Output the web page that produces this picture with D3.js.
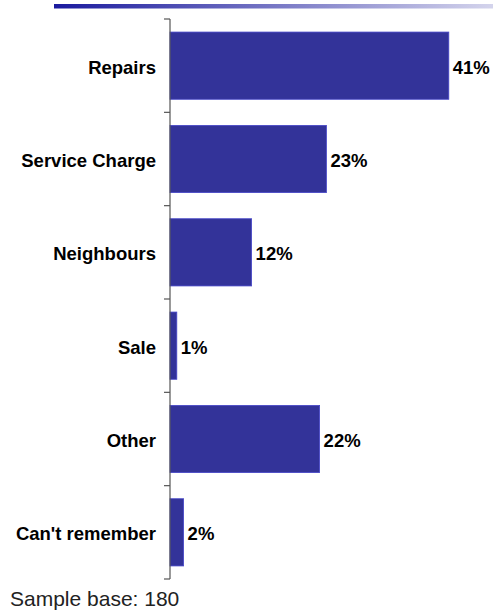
<!DOCTYPE html>
<html>
<head>
<meta charset="utf-8">
<script src="https://cdn.jsdelivr.net/npm/d3@7"></script>
<style>
  html, body { margin: 0; padding: 0; background: #fff; }
  svg { display: block; }
</style>
</head>
<body>
<svg id="chart" width="493" height="610"></svg>
<script>
// Reasons given, with share of respondents (%)
const categories = ["Repairs", "Service Charge", "Neighbours", "Sale", "Other", "Can't remember"];
const values = [41, 23, 12, 1, 22, 2];
const sampleBase = 180;

const svg = d3.select("#chart");

// Header rule with a fading gradient
const defs = svg.append("defs");
const grad = defs.append("linearGradient").attr("id", "rule").attr("x1", "0%").attr("x2", "100%");
grad.append("stop").attr("offset", "0%").attr("stop-color", "#1a1a9e");
grad.append("stop").attr("offset", "100%").attr("stop-color", "#d4d4ec");
svg.append("rect").attr("x", 54).attr("y", 4).attr("width", 439).attr("height", 4.5).attr("fill", "url(#rule)");

const axisX = 170, plotTop = 19, plotBottom = 579;

const y = d3.scaleBand().domain(categories).range([plotTop, plotBottom]).paddingInner(0.28).paddingOuter(0.14);
const x = d3.scaleLinear().domain([0, 50]).range([axisX, axisX + 340]);

// Bars
svg.append("g").selectAll("rect")
  .data(categories)
  .join("rect")
  .attr("x", axisX)
  .attr("y", d => y(d))
  .attr("width", (d, i) => x(values[i]) - axisX)
  .attr("height", y.bandwidth())
  .attr("fill", "#333399")
  .attr("stroke", "#4646c8")
  .attr("stroke-width", 0.8);

// Category axis: line with ticks on band boundaries
const step = (plotBottom - plotTop) / categories.length;
const boundaries = d3.range(categories.length + 1).map(i => plotTop + i * step);
const axisG = svg.append("g").attr("stroke", "#555").attr("stroke-width", 1.2);
axisG.append("line").attr("x1", axisX).attr("x2", axisX).attr("y1", plotTop).attr("y2", plotBottom);
axisG.selectAll("line.tick").data(boundaries).join("line").attr("class", "tick")
  .attr("x1", axisX - 6).attr("x2", axisX).attr("y1", d => d).attr("y2", d => d);

// Category labels
svg.append("g").selectAll("text")
  .data(categories)
  .join("text")
  .attr("x", 156)
  .attr("y", d => y(d) + y.bandwidth() / 2)
  .attr("dy", "0.43em")
  .attr("text-anchor", "end")
  .attr("font-family", "Liberation Sans, Arial, sans-serif")
  .attr("font-weight", "bold")
  .attr("font-size", "18.5px")
  .attr("fill", "#000")
  .text(d => d);

// Value labels
svg.append("g").selectAll("text")
  .data(categories)
  .join("text")
  .attr("x", (d, i) => x(values[i]) + 4)
  .attr("y", d => y(d) + y.bandwidth() / 2)
  .attr("dy", "0.43em")
  .attr("font-family", "Liberation Sans, Arial, sans-serif")
  .attr("font-weight", "bold")
  .attr("font-size", "18.5px")
  .attr("fill", "#000")
  .text((d, i) => values[i] + "%");

// Footnote
svg.append("text")
  .attr("x", 10)
  .attr("y", 606)
  .attr("font-family", "Liberation Sans, Arial, sans-serif")
  .attr("font-size", "21px")
  .attr("fill", "#222")
  .text("Sample base: " + sampleBase);
</script>
</body>
</html>
